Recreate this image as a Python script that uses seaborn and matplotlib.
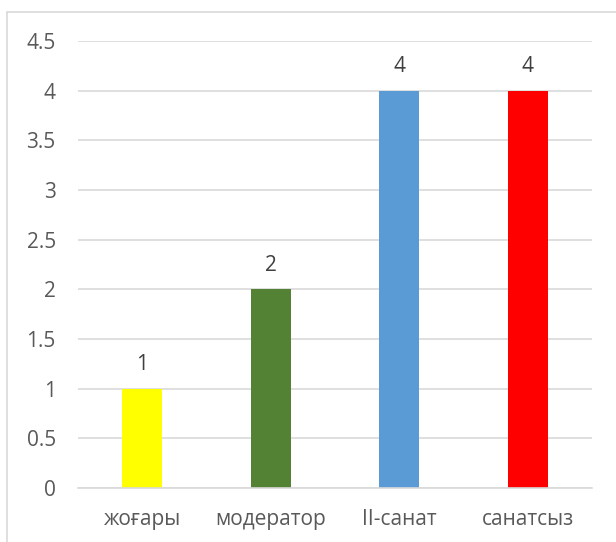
import matplotlib
matplotlib.use("Agg")
import matplotlib.pyplot as plt
import seaborn as sns
import pandas as pd
from matplotlib.patches import Rectangle

categories = ["жоғары", "модератор", "II-санат", "санатсыз"]
values = [1, 2, 4, 4]
colors = ["#FFFF00", "#548235", "#5B9BD5", "#FF0000"]
yticks = [0, 0.5, 1, 1.5, 2, 2.5, 3, 3.5, 4, 4.5]
ytick_labels = ["0", "0.5", "1", "1.5", "2", "2.5", "3", "3.5", "4", "4.5"]

sns.set_theme(style="white")
plt.rcParams['font.family'] = ['Open Sans', 'DejaVu Sans']

df = pd.DataFrame({"cat": categories, "val": values})

fig = plt.figure(figsize=(6.16, 5.42), dpi=100)
fig.patches.append(Rectangle((7/616, -0.1), 1.2, 1 - 12/542 + 0.1, transform=fig.transFigure,
                             fill=False, edgecolor="#D9D9D9", linewidth=1.2))
ax = fig.add_axes([78/616, 54/542, 514/616, 447/542])
sns.barplot(data=df, x="cat", y="val", hue="cat", palette=colors, legend=False,
            width=0.31, ax=ax, saturation=1, linewidth=0, edgecolor="none")
ax.set_ylim(0, 4.5)
ax.set_xlim(-0.5, 3.5)
ax.set_yticks(yticks)
ax.set_yticklabels(ytick_labels)
ax.yaxis.grid(True, color="#D9D9D9", linewidth=1.2)
ax.set_axisbelow(True)
for s in ["top", "right", "left"]:
    ax.spines[s].set_visible(False)
ax.spines["bottom"].set_color("#D9D9D9")
ax.spines["bottom"].set_linewidth(1.2)
ax.tick_params(axis="both", length=0, labelsize=15, colors="#595959")
ax.tick_params(axis="x", pad=15)
ax.tick_params(axis="y", pad=16)
ax.set_xlabel("")
ax.set_ylabel("")
for c in ax.containers:
    ax.bar_label(c, labels=[str(int(v)) for v in c.datavalues], padding=9.5,
                 fontsize=15, color="#404040")
fig.savefig("out.png", dpi=100)
